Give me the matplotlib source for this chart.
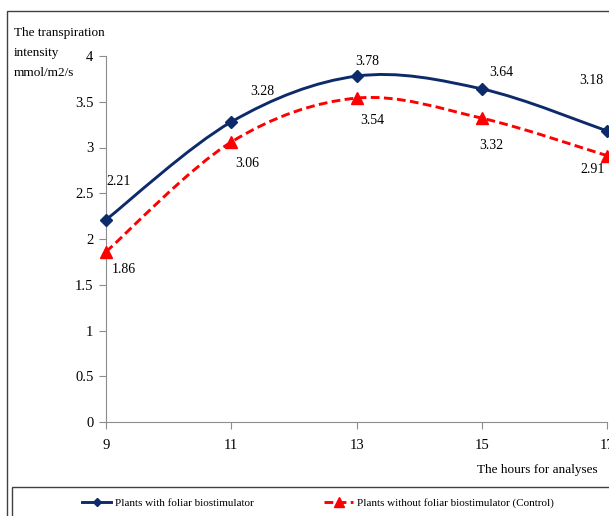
import matplotlib
matplotlib.use("Agg")
import matplotlib.pyplot as plt
from matplotlib.path import Path
from matplotlib.patches import PathPatch, Rectangle
from matplotlib.lines import Line2D

hours = [9, 11, 13, 15, 17]
with_bio = [2.21, 3.28, 3.78, 3.64, 3.18]
control = [1.86, 3.06, 3.54, 3.32, 2.91]
yticks = [0, 0.5, 1, 1.5, 2, 2.5, 3, 3.5, 4]

blue = "#0d2a6b"
red = "#ff0000"
font = "Liberation Serif"
dash = (0, (3, 1.5))


def smooth_path(xs, ys):
    # Bezier segments through the points, like the spreadsheet "smoothed line"
    pts = list(zip(xs, ys))
    n = len(pts)
    verts = [pts[0]]
    codes = [Path.MOVETO]
    for i in range(n - 1):
        p0 = pts[i - 1] if i > 0 else pts[i]
        p1 = pts[i]
        p2 = pts[i + 1]
        p3 = pts[i + 2] if i + 2 < n else pts[i + 1]
        c1 = (p1[0] + (p2[0] - p0[0]) / 6, p1[1] + (p2[1] - p0[1]) / 6)
        c2 = (p2[0] - (p3[0] - p1[0]) / 6, p2[1] - (p3[1] - p1[1]) / 6)
        verts += [c1, c2, p2]
        codes += [Path.CURVE4] * 3
    return Path(verts, codes)


fig = plt.figure(figsize=(6.09, 5.16), dpi=100)
ax = fig.add_axes([106 / 609, 1 - 422 / 516, (607.3 - 106) / 609, (422 - 56) / 516])

ax.add_patch(PathPatch(smooth_path(hours, control), fill=False, edgecolor=red,
                       lw=2.1, linestyle=dash, clip_on=False, zorder=3))
ax.add_patch(PathPatch(smooth_path(hours, with_bio), fill=False, edgecolor=blue,
                       lw=2.1, clip_on=False, zorder=4))
ax.plot(hours, control, linestyle="none", marker="^", ms=8.5, color=red,
        clip_on=False, zorder=5)
ax.plot(hours, with_bio, linestyle="none", marker="D", ms=6, color=blue,
        clip_on=False, zorder=6)

# value labels (pixel offsets from each point)
blue_off = [(13, 38), (31, 30), (11, 15), (19, 16), (-16, 51)]
red_off = [(18, -18), (16, -21), (16, -22), (9, -27), (-15, -14)]
for x, y, off in zip(hours, with_bio, blue_off):
    ax.annotate(f"{y:.2f}", (x, y), xytext=off, textcoords="offset pixels",
                ha="center", va="center", fontsize=10, family=font,
                annotation_clip=False)
for x, y, off in zip(hours, control, red_off):
    ax.annotate(f"{y:.2f}", (x, y), xytext=off, textcoords="offset pixels",
                ha="center", va="center", fontsize=10, family=font,
                annotation_clip=False)

ax.set_xlim(9, 17)
ax.set_ylim(0, 4)
ax.set_xticks(hours)
ax.set_yticks(yticks)
ax.set_yticklabels([f"{t:g}" for t in yticks])
for s in ["top", "right"]:
    ax.spines[s].set_visible(False)
for s in ["left", "bottom"]:
    ax.spines[s].set_color("#8c8c8c")
ax.tick_params(colors="#8c8c8c", labelcolor="black", length=5, labelsize=10.5)
ax.tick_params(axis="x", pad=7)
ax.tick_params(axis="y", pad=4)
for lab in ax.get_xticklabels() + ax.get_yticklabels():
    lab.set_family(font)

fig.text(14 / 609, 1 - 53 / 516, "The transpiration\nintensity\nmmol/m2/s",
         ha="left", va="center", fontsize=9.5, family=font, linespacing=1.85)
fig.text(598 / 609, 1 - 470 / 516, "The hours for analyses", ha="right",
         va="center", fontsize=9.5, family=font)

# outer chart frame and legend box
fig.patches.append(Rectangle((7 / 609, -0.1), 1.2, 0.1 + 1 - 11 / 516,
                             transform=fig.transFigure, fill=False,
                             edgecolor="#404040", lw=1))
fig.patches.append(Rectangle((11.5 / 609, -0.1), 1.2, 0.1 + 1 - 487 / 516,
                             transform=fig.transFigure, fill=False,
                             edgecolor="#404040", lw=1))

handles = [
    Line2D([], [], color=blue, lw=2.1, marker="D", ms=4.5),
    Line2D([], [], color=red, lw=2.1, linestyle=dash, marker="^", ms=7),
]
labels = ["Plants with foliar biostimulator",
          "Plants without foliar biostimulator (Control)"]
fig.legend(handles, labels, loc="center", bbox_to_anchor=(318 / 609, 1 - 503 / 516),
           ncol=2, frameon=False, prop={"family": font, "size": 8},
           handlelength=2.6, handletextpad=0.3, columnspacing=6.4)

fig.savefig("out.png", dpi=100)
